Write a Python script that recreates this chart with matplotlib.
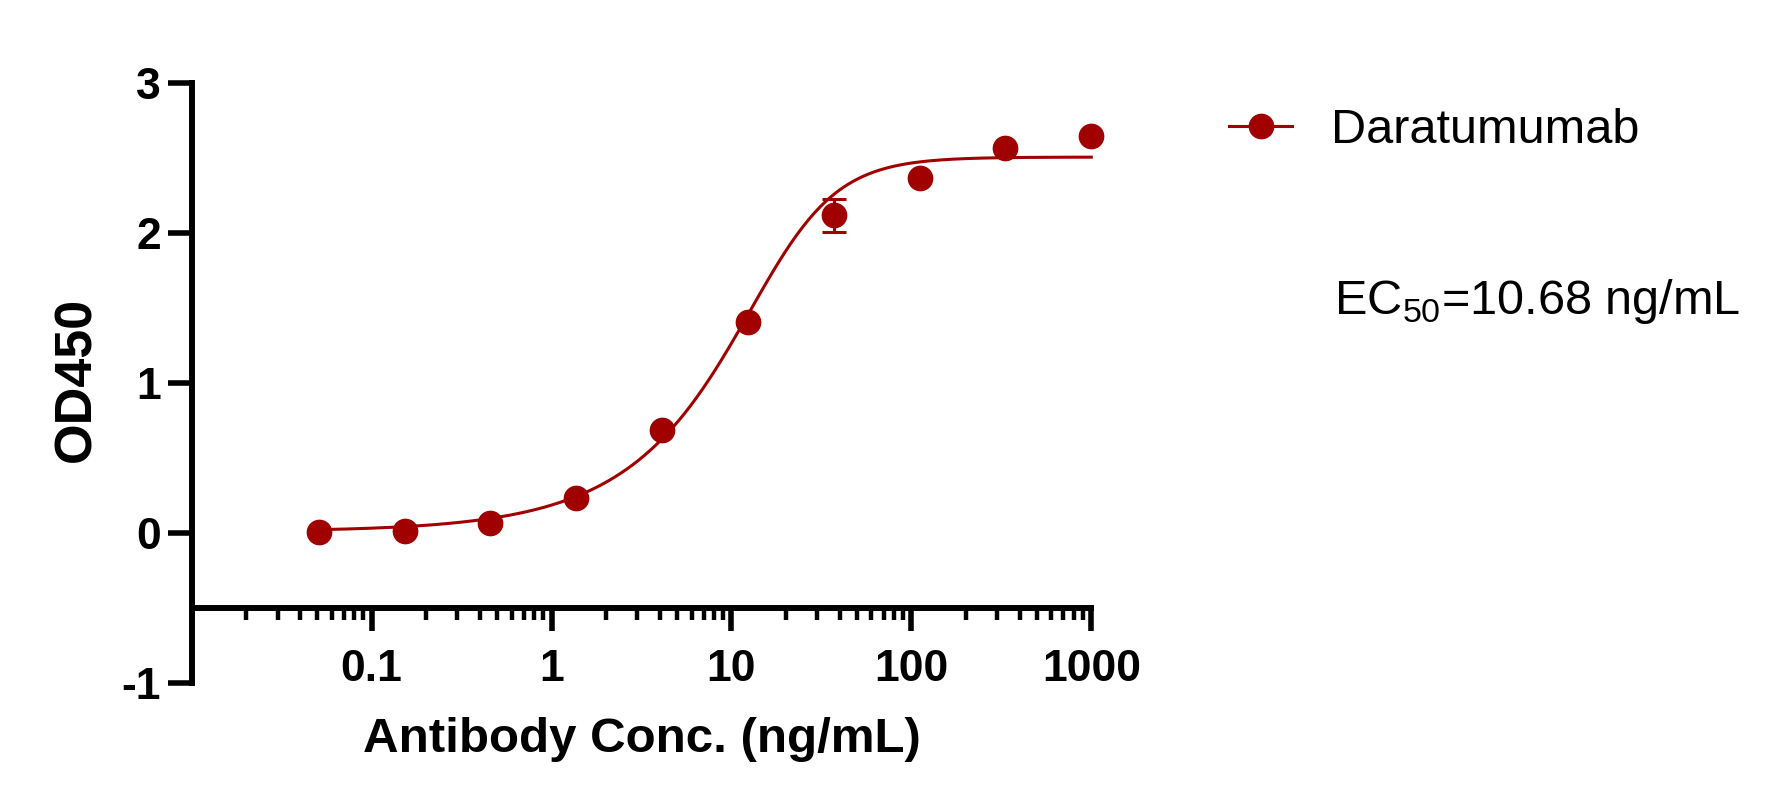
import numpy as np
import matplotlib
matplotlib.use("Agg")
import matplotlib.pyplot as plt
from matplotlib.lines import Line2D
from matplotlib.ticker import LogLocator, NullFormatter, FixedLocator, FixedFormatter

plt.rcParams['font.family'] = ['Liberation Sans', 'DejaVu Sans']
plt.rcParams['mathtext.fontset'] = 'custom'
plt.rcParams['mathtext.rm'] = 'Liberation Sans'

# datos (3-fold dilution from 1000 ng/mL)
conc = [0.0508, 0.1524, 0.4572, 1.372, 4.115, 12.35, 37.04, 111.1, 333.3, 1000.0]
od450 = [0.011, 0.018, 0.069, 0.236, 0.691, 1.41, 2.12, 2.37, 2.57, 2.65]
od_err = [0, 0, 0, 0, 0, 0, 0.11, 0, 0, 0]

# parametros del ajuste (5PL) estimados desde la curva
fit_bottom, fit_top, fit_c, fit_hill, fit_s = 0.012, 2.508, 19.0, 2.0, 0.45

x_ticks = [0.1, 1, 10, 100, 1000]
x_ticklabels = ['0.1', '1', '10', '100', '1000']
y_ticks = [-1, 0, 1, 2, 3]

color = '#A00000'
W, Hh = 1788, 807

fig = plt.figure(figsize=(W/100, Hh/100), dpi=100)
ax = fig.add_axes([191.7/W, 1-683.3/Hh, (1091.3-191.7)/W, 600/Hh])

# curva ajustada
xs = np.logspace(np.log10(conc[0]), np.log10(conc[-1]), 400)
ys = fit_bottom + (fit_top-fit_bottom)/(1+(fit_c/xs)**fit_hill)**fit_s
ax.plot(xs, ys, color=color, lw=2.2, clip_on=False, zorder=2)

# puntos con barras de error
ax.errorbar(conc, od450, yerr=od_err, fmt='o', color=color, ms=17.5,
            elinewidth=2.2, capsize=8.4, capthick=2.2, clip_on=False, zorder=3)

ax.set_xscale('log')
ax.set_xlim(0.01, 1000)
ax.set_ylim(-1, 3)

for s in ['top', 'right']:
    ax.spines[s].set_visible(False)
ax.spines['left'].set_linewidth(4.3)
ax.spines['bottom'].set_linewidth(4.3)
ax.spines['bottom'].set_position(('data', -0.5))
ax.spines['left'].set_capstyle('projecting')
ax.spines['bottom'].set_capstyle('projecting')

ax.xaxis.set_major_locator(FixedLocator(x_ticks))
ax.xaxis.set_major_formatter(FixedFormatter(x_ticklabels))
ax.xaxis.set_minor_locator(LogLocator(base=10, subs=np.arange(2, 10), numticks=20))
ax.xaxis.set_minor_formatter(NullFormatter())
ax.set_yticks(y_ticks)
ax.set_yticklabels([str(v) for v in y_ticks])

ax.tick_params(axis='x', which='major', length=16.5, width=4.0, direction='out', pad=13,
               labelsize=32)
ax.tick_params(axis='x', which='minor', length=8.5, width=3.2, direction='out')
ax.tick_params(axis='y', which='major', length=17, width=4.0, direction='out', pad=5,
               labelsize=32)
for lab in ax.get_xticklabels() + ax.get_yticklabels():
    lab.set_fontweight('bold')

# etiquetas de ejes
fig.text(641.5/W, 1-752.3/Hh, 'Antibody Conc. (ng/mL)', ha='center', va='baseline',
         fontsize=35.5, fontweight='bold')
fig.text(90/W, 1-379/Hh, 'OD450', ha='center', va='baseline', rotation=90,
         rotation_mode='anchor', fontsize=37.5, fontweight='bold')

# leyenda
handle = Line2D([], [], color=color, lw=2.2, marker='o', ms=17.5)
fig.legend([handle], ['Daratumumab'], loc='center left', bbox_to_anchor=(1229/W, 1-130.4/Hh),
           frameon=False, fontsize=35, handlelength=1.3, handletextpad=0.8,
           borderpad=0, borderaxespad=0)

fig.text(1334/W, 1-314.4/Hh, r'EC$_{\mathrm{50}}$=10.68 ng/mL', ha='left', va='baseline',
         fontsize=35)

fig.savefig('out.png', dpi=100)
